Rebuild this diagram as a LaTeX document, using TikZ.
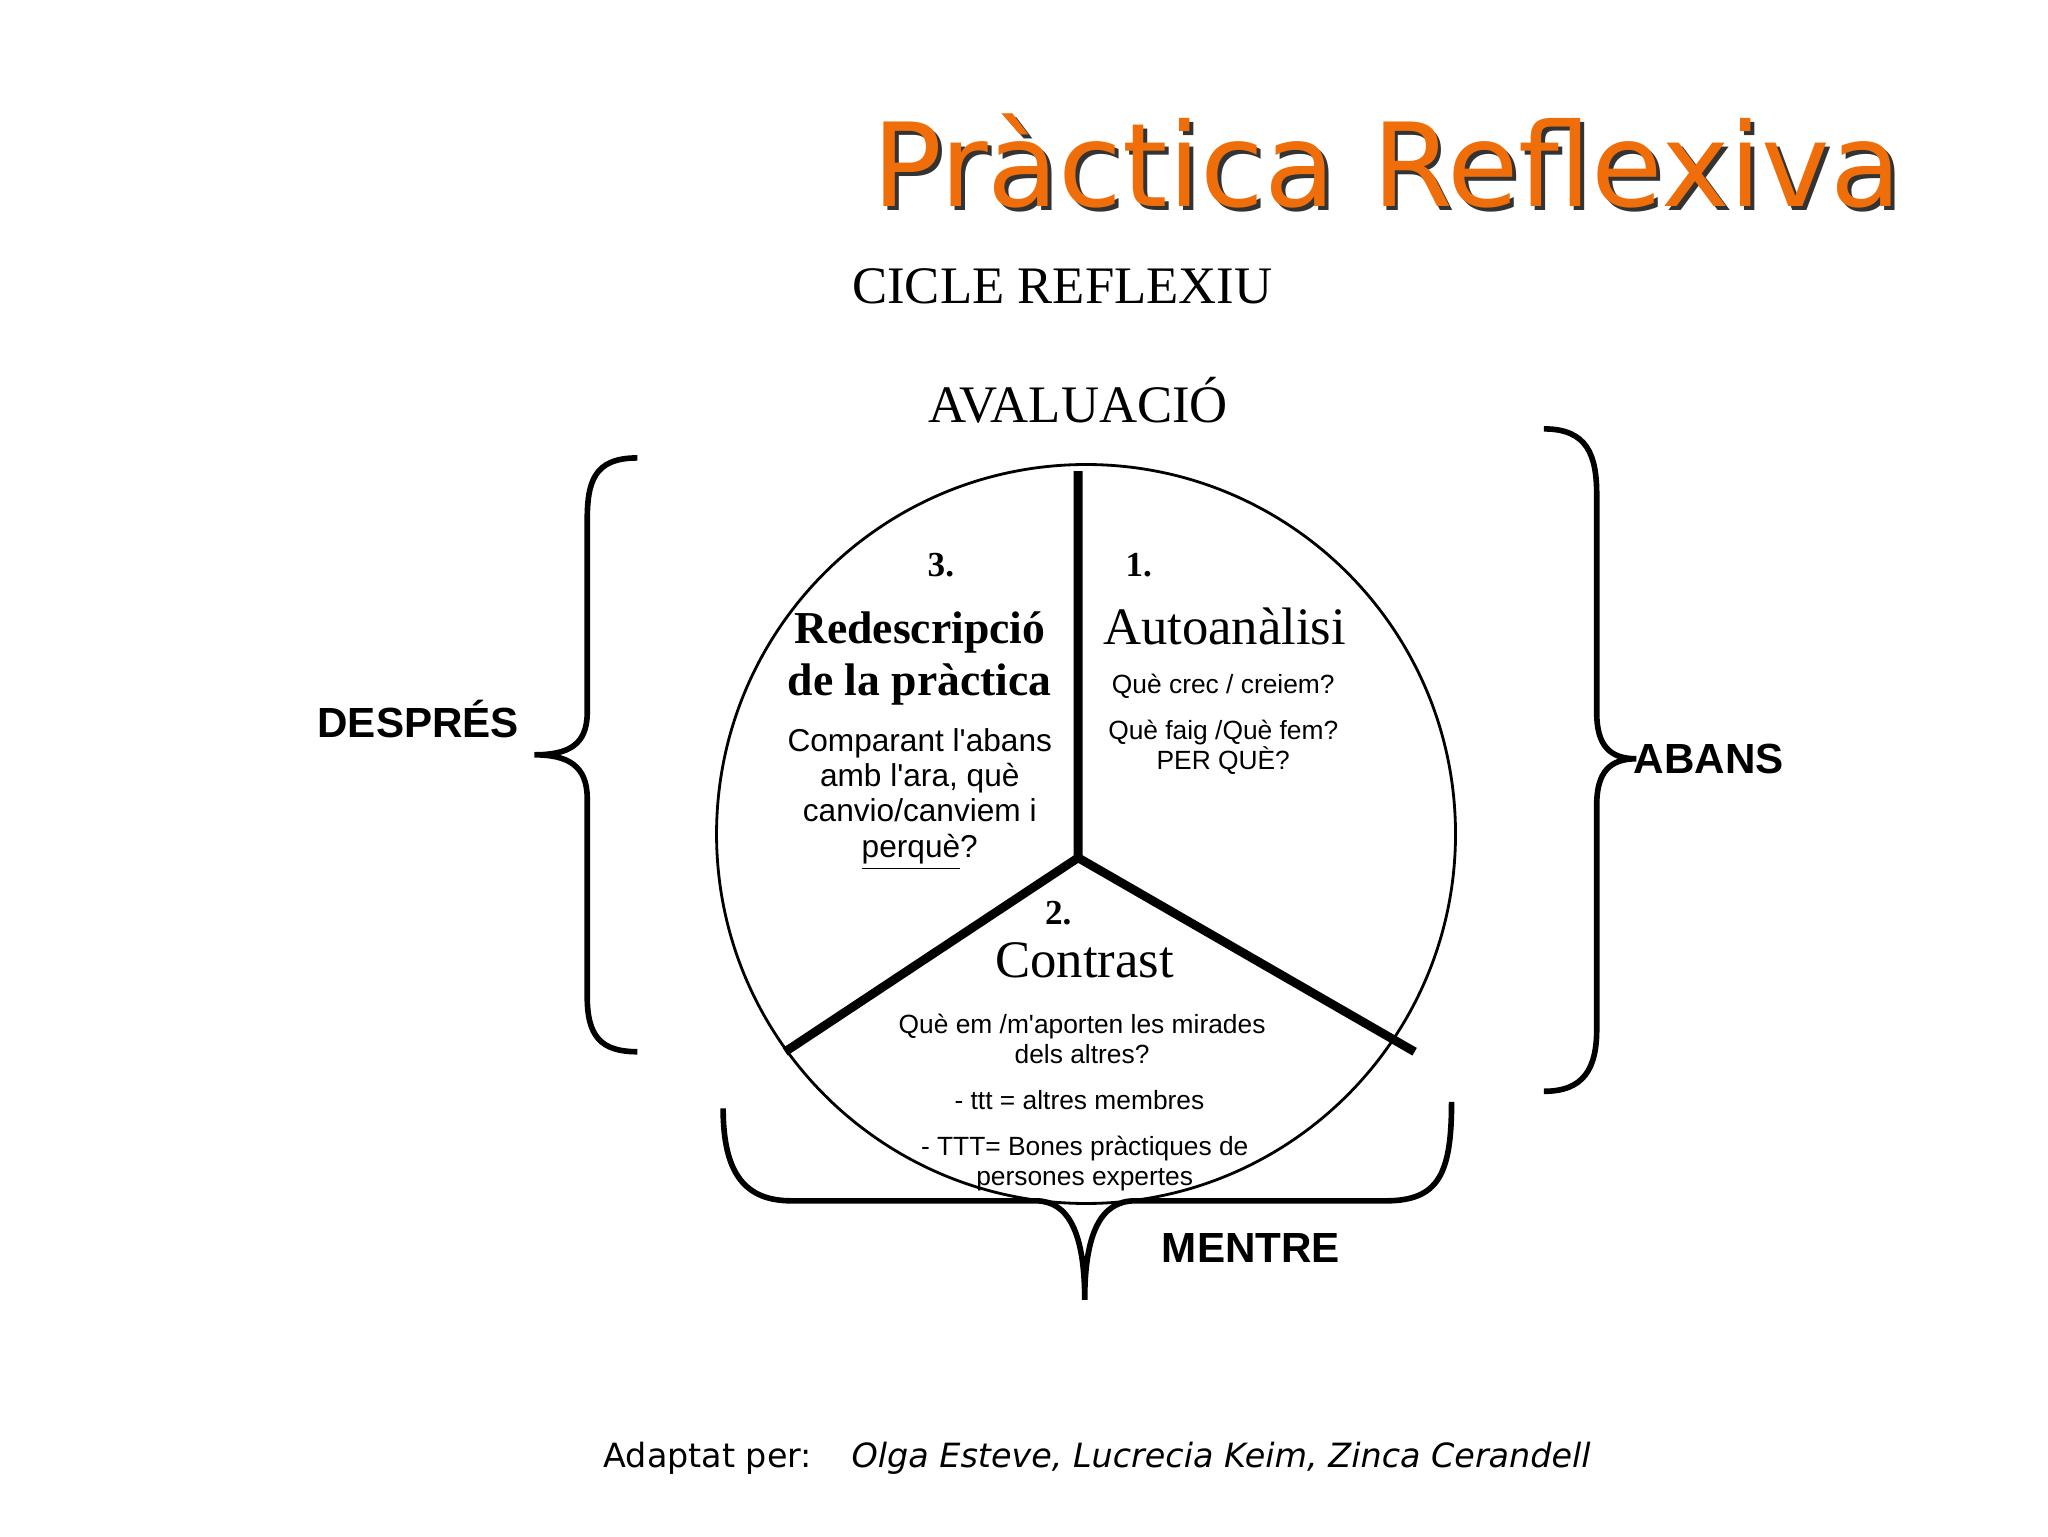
\documentclass[tikz,border=0pt]{standalone}
\usepackage{fontspec}
\setmainfont{Liberation Serif}
\newfontfamily\sans{DejaVu Sans}
\newfontfamily\lsans{Liberation Sans}
\definecolor{orng}{RGB}{240,110,10}
\begin{document}
\begin{tikzpicture}[x=0.013196cm,y=-0.013196cm,
  sec/.style={align=center,font=\lsans\fontsize{9}{10}\selectfont},
  small/.style={align=center,font=\lsans\fontsize{7.5}{8.5}\selectfont},
  head/.style={align=center,font=\bfseries\fontsize{13}{15}\selectfont},
  lab/.style={font=\lsans\bfseries\fontsize{12}{14}\selectfont},
  br/.style={line width=1.6pt}]
\useasboundingbox (0,0) rectangle (1552,1164);
% title
\node[font=\sans\fontsize{33}{36}\selectfont,text=black!80] at (1054,125) {Pràctica Reflexiva};
\node[font=\sans\fontsize{33}{36}\selectfont,text=orng] (title) at (1051,122) {Pràctica Reflexiva};
\node[font=\fontsize{15}{17}\selectfont] (cicle) at (805,217) {CICLE REFLEXIU};
\node[font=\fontsize{15}{17}\selectfont] (aval) at (817,303) {AVALUACIÓ};
% circle
\node[circle,draw,line width=0.8pt,minimum size=560*0.013196cm,inner sep=0pt] (circ) at (823,632) {};
\coordinate (c) at (817,650);
\coordinate (t) at (817,357);
\coordinate (l) at (595,797);
\coordinate (r) at (1072,797);
\draw[line width=2.5pt] (c)--(t) (c)--(l) (c)--(r);
% sector 3
\node[font=\bfseries\normalsize] (n3) at (713,428) {3.};
\node[head] (h3) at (697,499) {Redescripció\\de la pràctica};
\node[sec] (s3) at (697,606) {Comparant l'abans\\amb l'ara, què\\canvio/canviem i\\\underline{perquè}?};
% sector 1
\node[font=\bfseries\normalsize] (n1) at (863,428) {1.};
\node[font=\fontsize{15}{17}\selectfont] (h1) at (928,475) {Autoanàlisi};
\node[small] (s1a) at (927,520) {Què crec / creiem?};
\node[small] (s1b) at (927,566) {Què faig /Què fem?\\PER QUÈ?};
% sector 2
\node[font=\bfseries\normalsize] (n2) at (802,692) {2.};
\node[font=\fontsize{15}{17}\selectfont] (h2) at (822,728) {Contrast};
\node[small] (s2a) at (820,787) {Què em /m'aporten les mirades\\dels altres?};
\node[small] (s2b) at (818,834) {- ttt = altres membres};
\node[small] (s2c) at (822,882) {- TTT= Bones pràctiques de\\persones expertes};
% braces
\draw[br] (483,347) .. controls (450,347) and (445,365) .. (445,395) -- (445,540)
  .. controls (445,565) and (430,572) .. (405,572)
  .. controls (430,572) and (445,580) .. (445,605) -- (445,755)
  .. controls (445,785) and (455,797) .. (483,797);
\draw[br] (1170,325) .. controls (1203,325) and (1210,345) .. (1210,375) -- (1210,540)
  .. controls (1210,565) and (1220,575) .. (1240,575)
  .. controls (1220,575) and (1210,585) .. (1210,610) -- (1210,780)
  .. controls (1210,810) and (1200,827) .. (1170,827);
\draw[br] (548,840) .. controls (548,890) and (565,910) .. (600,910) -- (785,910)
  .. controls (810,910) and (822,935) .. (822,985)
  .. controls (822,935) and (834,910) .. (860,910) -- (1050,910)
  .. controls (1090,910) and (1100,890) .. (1100,835);
\node[lab] (desp) at (317,545) {DESPRÉS};
\node[lab] (abans) at (1295,575) {ABANS};
\node[lab] (ment) at (948,946) {MENTRE};
% footer
\node[font=\sans\fontsize{9.5}{12}\selectfont,anchor=west] (f1) at (448,1105) {Adaptat per:};
\node[font=\sans\itshape\fontsize{9.5}{12}\selectfont,anchor=west] (f2) at (636,1105) {Olga Esteve, Lucrecia Keim, Zinca Cerandell};
\end{tikzpicture}
\end{document}
